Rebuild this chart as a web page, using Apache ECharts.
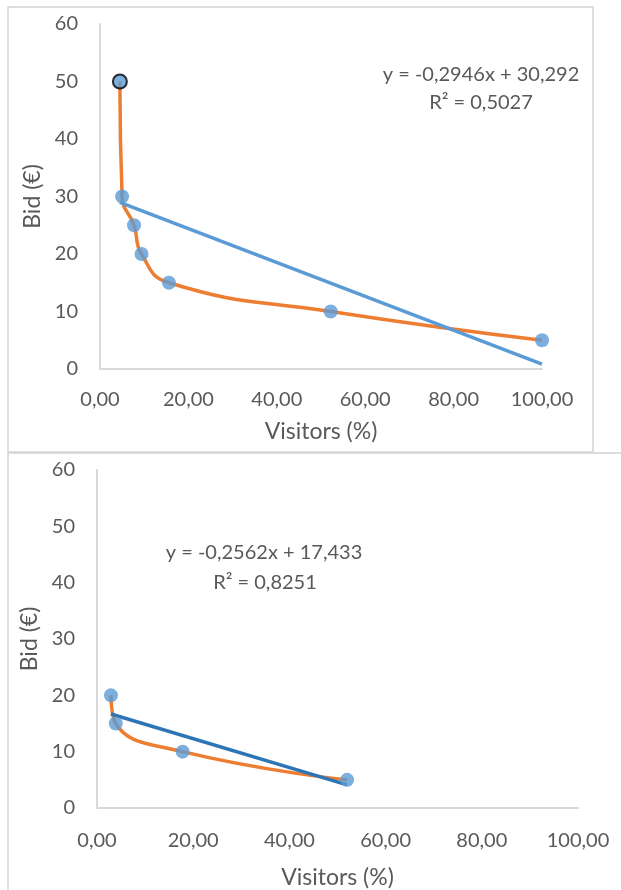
<!DOCTYPE html>
<html>
<head>
<meta charset="utf-8">
<script src="https://cdn.jsdelivr.net/npm/echarts@6/dist/echarts.min.js"></script>
<style>
html,body{margin:0;padding:0;background:#fff;}
#c{width:621px;height:890px;}
</style>
</head>
<body>
<div id="c"></div>
<script>
// ---- data ----
const visitors1 = [4.5, 5.0, 7.7, 9.4, 15.6, 52.2, 100.0];
const bids1     = [50, 30, 25, 20, 15, 10, 5];
const trendX1   = [4.5, 100];
const trendY1   = [28.97, 0.83];
const equation1 = ['y = -0,2946x + 30,292', 'R² = 0,5027'];

const visitors2 = [2.9, 3.9, 17.8, 52.0];
const bids2     = [20, 15, 10, 5];
const trendX2   = [2.9, 52.0];
const trendY2   = [16.69, 4.11];
const equation2 = ['y = -0,2562x + 17,433', 'R² = 0,8251'];

const xTickLabels = ['0,00', '20,00', '40,00', '60,00', '80,00', '100,00'];
const yTickLabels = ['0', '10', '20', '30', '40', '50', '60'];
const xTitle = 'Visitors (%)';
const yTitle = 'Bid (€)';

// ---- styling ----
const FONT = 'Lato';
const TXT = '#595959';
const AXIS = '#d9d9d9';
const ORANGE = '#ED7D31';
const BLUE = '#5B9BD5';
const BLUE_DARK = '#2E75B6';

function pairs(xs, ys){ return xs.map((x,i)=>[x, ys[i]]); }

function xAxis(gi, margin, gap){
  return {
    type:'value', gridIndex:gi, min:0, max:100, interval:20,
    name:xTitle, nameLocation:'middle', nameGap:gap,
    nameTextStyle:{fontFamily:FONT, fontSize:23, color:TXT},
    axisLine:{lineStyle:{color:AXIS, width:2}},
    axisTick:{show:false}, splitLine:{show:false},
    axisLabel:{fontFamily:FONT, fontSize:20, color:TXT, margin:margin,
      formatter:(v)=>xTickLabels[Math.round(v/20)]}
  };
}
function yAxis(gi, margin, gap){
  return {
    type:'value', gridIndex:gi, min:0, max:60, interval:10,
    name:yTitle, nameLocation:'middle', nameGap:gap,
    nameTextStyle:{fontFamily:FONT, fontSize:23, color:TXT},
    axisLine:{show:true, lineStyle:{color:AXIS, width:2}},
    axisTick:{show:false}, splitLine:{show:false},
    axisLabel:{fontFamily:FONT, fontSize:20, color:TXT, margin:margin,
      formatter:(v)=>yTickLabels[Math.round(v/10)]}
  };
}

function eqText(x, y, t){
  return {type:'text', x:x, y:y, style:{text:t, textAlign:'center', textVerticalAlign:'middle', fontFamily:FONT, fontSize:20, fill:TXT}};
}

const chart = echarts.init(document.getElementById('c'), null, {renderer:'canvas'});
chart.setOption({
  animation:false,
  backgroundColor:'#fff',
  grid:[
    {left:100, top:24, right:79, bottom:521},
    {left:97, top:470, right:43, bottom:80}
  ],
  xAxis:[xAxis(0, 21, 51), xAxis(1, 23, 58)],
  yAxis:[yAxis(0, 22, 55), yAxis(1, 22, 52)],
  graphic:[
    {type:'rect', shape:{x:8, y:7, width:585, height:445}, style:{fill:'none', stroke:'#d4d4d4', lineWidth:1.5}, z:-1},
    {type:'rect', shape:{x:8, y:453, width:700, height:500}, style:{fill:'none', stroke:'#d4d4d4', lineWidth:1.5}, z:-1},
    eqText(481, 75, equation1[0]),
    eqText(481, 103, equation1[1]),
    eqText(264, 553, equation2[0]),
    eqText(265, 583, equation2[1])
  ],
  series:[
    {type:'line', xAxisIndex:0, yAxisIndex:0, data:pairs(visitors1,bids1), smooth:0.5, showSymbol:false, symbol:'none',
      lineStyle:{color:ORANGE, width:3.5}, z:1},
    {type:'line', xAxisIndex:0, yAxisIndex:0, data:pairs(trendX1,trendY1), showSymbol:false, symbol:'none',
      lineStyle:{color:BLUE, width:3.5}, z:2},
    {type:'scatter', xAxisIndex:0, yAxisIndex:0, symbolSize:14,
      data:pairs(visitors1,bids1).map((p,i)=> i===0 ? {value:p, itemStyle:{borderColor:'#000', borderWidth:2}} : p),
      itemStyle:{color:BLUE}, z:3},
    {type:'line', xAxisIndex:1, yAxisIndex:1, data:pairs(visitors2,bids2), smooth:0.5, showSymbol:false, symbol:'none',
      lineStyle:{color:ORANGE, width:3.5}, z:1},
    {type:'line', xAxisIndex:1, yAxisIndex:1, data:pairs(trendX2,trendY2), showSymbol:false, symbol:'none',
      lineStyle:{color:BLUE_DARK, width:3.5}, z:2},
    {type:'scatter', xAxisIndex:1, yAxisIndex:1, symbolSize:14, data:pairs(visitors2,bids2),
      itemStyle:{color:BLUE}, z:3}
  ]
});
</script>
</body>
</html>
